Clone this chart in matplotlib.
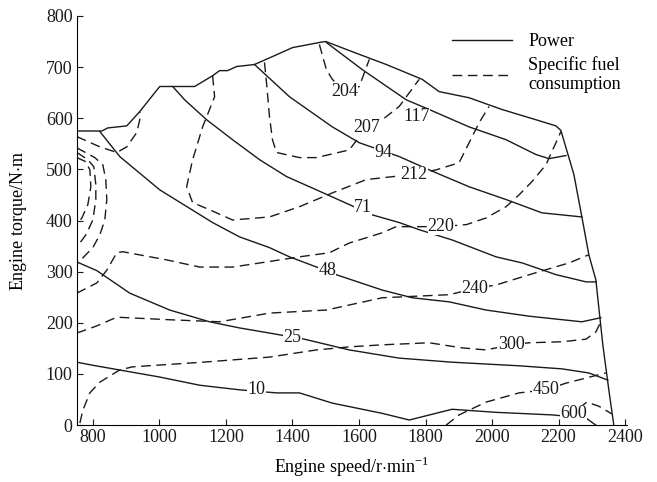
import matplotlib.pyplot as plt
from matplotlib.lines import Line2D

plt.rcParams['font.family'] = ['Liberation Serif', 'DejaVu Serif']
plt.rcParams['mathtext.fontset'] = 'custom'
plt.rcParams['mathtext.rm'] = 'Liberation Serif'

# full-load torque curve (rpm, N·m), top edge then the governor line
full_load = [(752, 575), (827, 575), (845, 581), (902, 585), (941, 613), (1001, 662),
             (1106, 662), (1160, 683), (1181, 693), (1205, 693), (1232, 701), (1286, 705),
             (1352, 724), (1400, 738), (1481, 748), (1500, 750), (1580, 730), (1682, 705),
             (1790, 676), (1841, 652), (1931, 640), (2030, 617), (2132, 597), (2192, 585),
             (2207, 576), (2246, 490), (2270, 407), (2291, 333), (2312, 284), (2333, 157),
             (2351, 69), (2366, 0)]

# equal power lines (kW)
p10 = [(752, 123), (800, 117), (1001, 94), (1121, 78), (1241, 69), (1352, 63), (1421, 63),
       (1520, 43), (1670, 23), (1751, 10), (1880, 31), (2012, 25), (2180, 20), (2282, 14),
       (2312, 0)]
p25 = [(752, 319), (812, 302), (911, 258), (1031, 225), (1151, 202), (1241, 190), (1331, 180),
       (1436, 168), (1571, 147), (1721, 131), (1880, 123), (2081, 116), (2210, 110),
       (2291, 102), (2348, 88)]
p48 = [(821, 574), (881, 525), (1001, 460), (1160, 396), (1241, 368), (1331, 347), (1391, 329),
       (1481, 307), (1532, 294), (1670, 264), (1760, 249), (1871, 241), (1982, 225),
       (2111, 213), (2270, 202), (2327, 210)]
p71 = [(1040, 662), (1076, 636), (1142, 597), (1220, 558), (1301, 519), (1382, 486),
       (1472, 460), (1551, 437), (1640, 411), (1721, 396), (1781, 382), (1880, 362),
       (2012, 329), (2091, 317), (2193, 294), (2283, 280), (2313, 280)]
p94 = [(1286, 705), (1391, 642), (1520, 583), (1601, 552), (1721, 525), (1811, 499),
       (1931, 466), (2042, 441), (2150, 415), (2270, 407)]
p117 = [(1502, 748), (1610, 695), (1742, 636), (1811, 617), (1931, 583), (2042, 558),
        (2132, 529), (2171, 521), (2222, 527)]

# specific fuel consumption lines (g/kWh)
b204 = [(1481, 744), (1502, 695), (1520, 676), (1556, 652), (1601, 662), (1631, 715)]
b207 = [(1316, 709), (1322, 670), (1331, 603), (1340, 558), (1352, 533), (1421, 523),
        (1472, 523), (1571, 538), (1622, 582), (1670, 597), (1721, 623), (1781, 676)]
b212 = [(1160, 683), (1166, 642), (1130, 583), (1100, 519), (1082, 466), (1100, 435),
        (1151, 421), (1220, 401), (1331, 407), (1421, 427), (1520, 454), (1622, 480),
        (1760, 490), (1832, 499), (1901, 513), (1931, 552), (1961, 591), (1991, 623)]
b220 = [(752, 258), (812, 278), (842, 303), (872, 337), (890, 339), (1022, 323), (1121, 309),
        (1220, 309), (1322, 319), (1421, 329), (1511, 337), (1571, 356), (1670, 376),
        (1712, 388), (1847, 388), (1923, 392), (1982, 405), (2042, 427), (2081, 450),
        (2120, 476), (2162, 509), (2192, 552), (2207, 574)]
b240 = [(752, 180), (812, 194), (872, 211), (1031, 206), (1181, 202), (1331, 219),
        (1502, 225), (1670, 249), (1871, 255), (1955, 268), (2012, 274), (2132, 298),
        (2231, 317), (2291, 333)]
b300 = [(761, 4), (770, 29), (791, 63), (821, 84), (881, 108), (920, 114), (1130, 123),
        (1331, 133), (1472, 147), (1571, 153), (1670, 157), (1811, 161), (1910, 151),
        (1982, 147), (2057, 157), (2111, 161), (2210, 163), (2282, 168), (2312, 182),
        (2327, 202)]
b450 = [(1862, 0), (1901, 20), (1982, 45), (2081, 63), (2162, 69), (2222, 82), (2282, 92),
        (2342, 102)]
b600 = [(2261, 33), (2285, 45), (2321, 37), (2360, 22)]
# closed-off islands at low speed / high torque
loop_a = [(752, 564), (821, 544), (872, 533), (902, 544), (932, 572), (941, 597), (941, 613)]
loop_b = [(752, 542), (806, 523), (830, 509), (839, 480), (842, 441), (836, 401), (821, 372),
          (800, 347), (770, 327), (752, 317)]
loop_c = [(752, 533), (785, 519), (803, 505), (809, 470), (809, 441), (800, 401), (779, 372),
          (752, 348)]
loop_d = [(752, 523), (779, 515), (791, 499), (794, 466), (785, 431), (767, 405), (752, 392)]

# contour labels: text, rpm, torque
labels = [('204', 1556, 652), ('207', 1622, 582), ('117', 1772, 603), ('94', 1673, 533),
          ('212', 1766, 490), ('71', 1613, 425), ('220', 1847, 388), ('48', 1505, 303),
          ('240', 1949, 268), ('25', 1400, 172), ('300', 2057, 157), ('10', 1292, 69),
          ('450', 2162, 69), ('600', 2246, 23)]

col = '#1a1a1a'
dash = (0, (7, 4))
fs = 13

fig = plt.figure(figsize=(6.57, 4.82), dpi=100)
ax = fig.add_axes([0.117, 0.118, 0.837, 0.849])

for c in [full_load, p10, p25, p48, p71, p94, p117]:
    x, y = zip(*c)
    ax.plot(x, y, color=col, lw=1.0)
for c in [b204, b207, b212, b220, b240, b300, b450, b600, loop_a, loop_b, loop_c, loop_d]:
    x, y = zip(*c)
    ax.plot(x, y, color=col, lw=1.0, linestyle=dash)

for t, x, y in labels:
    ax.text(x, y, t, ha='center', va='center', fontsize=fs, color=col, zorder=5,
            bbox=dict(facecolor='white', edgecolor='none', pad=0.1))

ax.set_xlim(752, 2405)
ax.set_ylim(0, 800)
ax.set_xticks(range(800, 2401, 200))
ax.set_yticks(range(0, 801, 100))
ax.spines['top'].set_visible(False)
ax.spines['right'].set_visible(False)
ax.tick_params(direction='in', length=4, labelsize=fs, colors=col, pad=3)
ax.set_xlabel(r'Engine speed/r$\cdot$min$^{-1}$', fontsize=fs, labelpad=6)
ax.set_ylabel(r'Engine torque/N$\cdot$m', fontsize=fs, labelpad=12)

handles = [Line2D([], [], color=col, lw=1.0),
           Line2D([], [], color=col, lw=1.0, linestyle=dash)]
ax.legend(handles, ['Power', 'Specific fuel\nconsumption'], loc='upper right',
          bbox_to_anchor=(1.012, 0.988), frameon=False, fontsize=fs, handlelength=3.3,
          labelspacing=0.3, handletextpad=0.9, borderaxespad=0.3)

plt.savefig('out.png', dpi=100)
